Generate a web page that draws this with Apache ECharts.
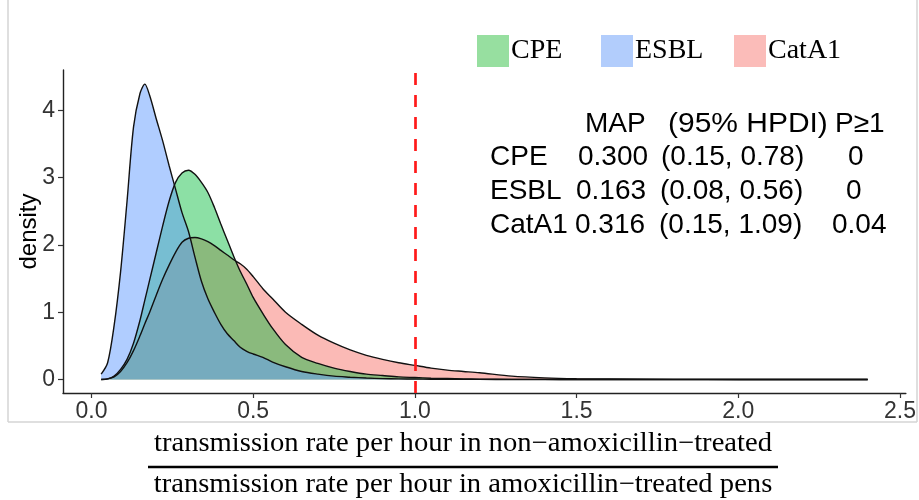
<!DOCTYPE html>
<html>
<head>
<meta charset="utf-8">
<script src="https://cdn.jsdelivr.net/npm/echarts@6/dist/echarts.min.js"></script>
<style>
html,body{margin:0;padding:0;background:#fff;}
#chart{width:919px;height:500px;}
</style>
</head>
<body>
<div id="chart"></div>
<script>
// ---- data ----
const xGrid = [0.03,0.05,0.07,0.09,0.11,0.13,0.15,0.165,0.18,0.20,0.22,0.24,0.26,0.28,0.30,0.32,0.34,0.36,0.38,0.40,0.42,0.44,0.46,0.48,0.50,0.53,0.56,0.60,0.65,0.70,0.75,0.80,0.85,0.90,0.95,1.00,1.05,1.10,1.15,1.20,1.30,1.40,1.50,1.60,1.80,2.00,2.20,2.40];
const densityESBL = [0.08,0.25,0.80,1.60,2.65,3.75,4.25,4.39,4.22,3.88,3.55,3.18,2.83,2.48,2.20,1.82,1.46,1.20,1.00,0.82,0.68,0.58,0.48,0.42,0.38,0.33,0.26,0.19,0.12,0.08,0.05,0.035,0.022,0.014,0.010,0.007,0.005,0.004,0.003,0.002,0.001,0.001,0.001,0.0005,0.0003,0.0002,0.0001,0];
const densityCPE = [0.00,0.01,0.05,0.15,0.30,0.54,0.88,1.18,1.48,1.88,2.28,2.65,2.93,3.07,3.11,3.05,2.93,2.78,2.56,2.31,2.07,1.83,1.61,1.42,1.22,0.98,0.76,0.52,0.33,0.24,0.17,0.12,0.08,0.06,0.04,0.03,0.02,0.015,0.01,0.006,0.003,0.002,0.001,0.0005,0.0003,0.0002,0.0001,0];
const densityCatA1 = [0.00,0.01,0.04,0.12,0.25,0.43,0.65,0.83,1.00,1.25,1.49,1.70,1.89,2.04,2.10,2.11,2.09,2.05,1.99,1.92,1.85,1.78,1.72,1.64,1.53,1.35,1.20,1.00,0.82,0.66,0.54,0.44,0.36,0.30,0.25,0.21,0.17,0.14,0.12,0.10,0.05,0.025,0.012,0.007,0.003,0.001,0.0005,0];
const xTicks = [0, 0.5, 1.0, 1.5, 2.0, 2.5];
const yTicks = [0, 1, 2, 3, 4];
const thresholdX = 1.0;
const legendNames = ['CPE', 'ESBL', 'CatA1'];
const tableHeader = ['MAP', '(95% HPDI)', 'P\u22651'];
const tableRowNames = ['CPE', 'ESBL', 'CatA1'];
const mapValues = ['0.300', '0.163', '0.316'];
const hpdiValues = ['(0.15, 0.78)', '(0.08, 0.56)', '(0.15, 1.09)'];
const pValues = ['0', '0', '0.04'];
const xTitleTop = 'transmission rate per hour in non\u2212amoxicillin\u2212treated';
const xTitleBottom = 'transmission rate per hour in amoxicillin\u2212treated pens';

// ---- styling ----
const fills = {
  CatA1: 'rgba(248,118,109,0.5)',
  CPE: 'rgba(0,186,56,0.45)',
  ESBL: 'rgba(97,156,255,0.5)'
};
const legendColors = { CPE: '#97DFA0', ESBL: '#B2CDFC', CatA1: '#FBBCB9' };
const dens = { CPE: densityCPE, ESBL: densityESBL, CatA1: densityCatA1 };

function seriesFor(name, extra) {
  return Object.assign({
    name: name,
    type: 'line',
    data: xGrid.map((x, i) => [x, dens[name][i]]),
    smooth: 0.3,
    symbol: 'none',
    showSymbol: false,
    lineStyle: { color: '#111', width: 1.4 },
    itemStyle: { color: legendColors[name] },
    areaStyle: { color: fills[name], opacity: 1 },
    emphasis: { disabled: true },
    silent: true
  }, extra || {});
}

const chart = echarts.init(document.getElementById('chart'), null, { renderer: 'canvas' });

const sansFont = '"Liberation Sans", Arial, sans-serif';
const serifFont = '"Liberation Serif", "Times New Roman", serif';
const tblSize = 28;

const tableGraphics = [];
const headerX = [585, 668, 835];
tableHeader.forEach((t, i) => tableGraphics.push({ type: 'text', x: headerX[i], y: 138, scaleX: i === 1 ? 1.07 : 1, style: { text: t, font: tblSize + 'px ' + sansFont, fill: '#000', textAlign: 'left', textVerticalAlign: 'bottom' } }));
const rowY = [171, 205, 239];
const nameX = [490, 490, 490];
const mapX = [578, 576, 575];
const hpdiX = [661, 660, 659];
const pX = [848, 846, 832];
tableRowNames.forEach((n, r) => {
  [[n, nameX[r]], [mapValues[r], mapX[r]], [hpdiValues[r], hpdiX[r]], [pValues[r], pX[r]]].forEach(([t, x]) => {
    tableGraphics.push({ type: 'text', x: x, y: rowY[r], style: { text: t, font: tblSize + 'px ' + sansFont, fill: '#000', textAlign: 'left', textVerticalAlign: 'bottom' } });
  });
});

function legendAt(name, left) {
  return {
    show: true,
    left: left, top: 35, padding: 0,
    orient: 'horizontal',
    icon: 'rect',
    itemWidth: 32, itemHeight: 32,
    selectedMode: false,
    data: [{ name: name, icon: 'rect', itemStyle: { color: legendColors[name], borderWidth: 0 } }],
    textStyle: { fontFamily: serifFont, fontSize: 28, color: '#000', padding: [0, 0, 0, -3] }
  };
}

const option = {
  animation: false,
  backgroundColor: '#fff',
  grid: { left: 63, right: 10, top: 70, bottom: 107, containLabel: false },
  legend: [legendAt('CPE', 477), legendAt('ESBL', 601), legendAt('CatA1', 734)],
  xAxis: {
    type: 'value', min: -0.088, max: 2.518,
    axisLine: { show: true, onZero: false, lineStyle: { color: '#222', width: 1.4 } },
    axisTick: { show: true, customValues: xTicks, length: 5, lineStyle: { color: '#333', width: 1.2 } },
    axisLabel: { customValues: xTicks, fontSize: 23, fontFamily: sansFont, color: '#333', margin: 7, formatter: v => v.toFixed(1) },
    splitLine: { show: false }
  },
  yAxis: {
    type: 'value', min: -0.2, max: 4.6,
    name: 'density', nameLocation: 'middle', nameGap: 22, nameMoveOverlap: false,
    nameTextStyle: { fontSize: 24, fontFamily: sansFont, color: '#000' },
    axisLine: { show: true, onZero: false, lineStyle: { color: '#222', width: 1.4 } },
    axisTick: { show: true, customValues: yTicks, length: 5, lineStyle: { color: '#333', width: 1.2 } },
    axisLabel: { customValues: yTicks, fontSize: 23, fontFamily: sansFont, color: '#333', margin: 8 },
    splitLine: { show: false }
  },
  series: [
    seriesFor('CatA1'),
    seriesFor('CPE'),
    seriesFor('ESBL', {
      markLine: {
        silent: true, symbol: ['none', 'none'],
        label: { show: false },
        lineStyle: { color: '#FF1A1A', type: [12, 10], width: 2.7 },
        data: [{ xAxis: thresholdX }]
      }
    })
  ],
  graphic: [
    { type: 'line', z: 100, shape: { x1: 8, y1: 0, x2: 8, y2: 422 }, style: { stroke: '#d4d4d4', lineWidth: 1.5 } },
    { type: 'line', z: 100, shape: { x1: 8, y1: 422, x2: 917, y2: 422 }, style: { stroke: '#d4d4d4', lineWidth: 1.5 } },
    { type: 'line', z: 100, shape: { x1: 917, y1: 0, x2: 917, y2: 422 }, style: { stroke: '#d4d4d4', lineWidth: 1.5 } },
    { type: 'text', x: 463, y: 457, scaleX: 1.06, style: { text: xTitleTop, font: '27px ' + serifFont, fill: '#000', textAlign: 'center', textVerticalAlign: 'bottom' } },
    { type: 'line', shape: { x1: 148, y1: 467, x2: 778, y2: 467 }, style: { stroke: '#000', lineWidth: 2.5 } },
    { type: 'text', x: 463, y: 498, scaleX: 1.06, style: { text: xTitleBottom, font: '27px ' + serifFont, fill: '#000', textAlign: 'center', textVerticalAlign: 'bottom' } }
  ].concat(tableGraphics)
};
chart.setOption(option);
</script>
</body>
</html>
